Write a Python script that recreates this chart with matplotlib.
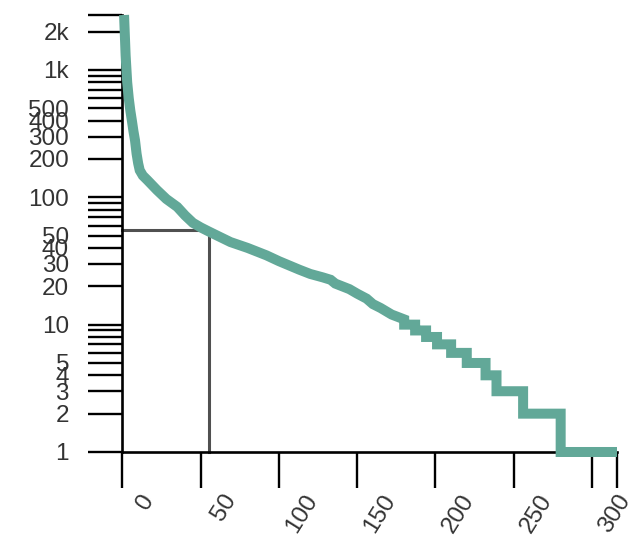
import numpy as np
import matplotlib
matplotlib.use("Agg")
import matplotlib.pyplot as plt
import matplotlib.transforms as mtransforms
from matplotlib.ticker import NullLocator

# ---- data (rank vs. count, log y) ----
head_rank = [1, 2, 3, 4, 5, 6, 7, 8, 9, 10, 11, 13, 16, 22, 28, 35, 40, 45, 50, 55,
             62, 69, 80, 92, 100, 113, 120, 128, 133, 136, 145, 150, 156, 160, 165,
             172, 180]
head_count = [2700, 1300, 800, 600, 480, 400, 330, 280, 220, 185, 163, 148, 136, 114,
              97, 84, 72, 63, 58, 54, 49, 44.5, 40, 35, 31.5, 27, 25, 23.5, 22.5, 21,
              19, 17.5, 16, 14.5, 13.5, 12, 11]
tail_level = [10, 9, 8, 7, 6, 5, 4, 3, 2, 1]
tail_start = [180, 187, 194, 201, 210, 220, 232, 239, 256, 280]
last_rank = 316

ref_rank = 55
ref_count = 55

y_ticks = [1, 2, 3, 4, 5, 6, 7, 8, 9,
           10, 20, 30, 40, 50, 60, 70, 80, 90,
           100, 200, 300, 400, 500, 600, 700, 800, 900,
           1000, 2000, 2700]
y_label_map = {1: "1", 2: "2", 3: "3", 4: "4", 5: "5", 10: "10", 20: "20", 30: "30",
               40: "40", 50: "50", 100: "100", 200: "200", 300: "300", 400: "400",
               500: "500", 1000: "1k", 2000: "2k"}
x_ticks = [0, 50, 100, 150, 200, 250, 300, 316]
x_labels = ["0", "50", "100", "150", "200", "250", "300", ""]

# ---- build the step series ----
xs = list(head_rank)
ys = list(head_count)
ends = tail_start[1:] + [last_rank]
for lvl, s, e in zip(tail_level, tail_start, ends):
    xs += [s, e]
    ys += [lvl, lvl]

plt.rcParams["font.family"] = ["Liberation Sans", "DejaVu Sans"]

fig = plt.figure(figsize=(6.37, 5.43), dpi=100)
ax = fig.add_axes([0.1923, 0.1676, 0.7763, 0.8048])
ax.set_yscale("log")
ax.set_xlim(0, last_rank)
ax.set_ylim(1, max(head_count))

for s in ["top", "right"]:
    ax.spines[s].set_visible(False)
for s in ["left", "bottom"]:
    ax.spines[s].set_linewidth(1.9)
    ax.spines[s].set_color("black")

# reference lines
ax.plot([0, ref_rank, ref_rank], [ref_count, ref_count, 1], color="#505050",
        lw=2.2, zorder=2, clip_on=False, solid_joinstyle="miter")

# main curve
ax.plot(xs, ys, color="#62a898", lw=7.2, zorder=3, clip_on=False,
        solid_joinstyle="miter", solid_capstyle="butt")

# y ticks
ax.set_yticks(y_ticks)
ax.set_yticklabels([y_label_map.get(v, "") for v in y_ticks])
ax.yaxis.set_minor_locator(NullLocator())
ax.tick_params(axis="y", length=24.5, width=1.7, pad=14, labelsize=17.5,
               labelcolor="#333333", color="black")

# x ticks
ax.set_xticks(x_ticks)
ax.set_xticklabels(x_labels)
ax.xaxis.set_minor_locator(NullLocator())
ax.tick_params(axis="x", length=26, width=1.7, pad=1.5, labelsize=17.5,
               labelcolor="#333333", color="black")
offset = mtransforms.ScaledTranslation(23 / 100, 0, fig.dpi_scale_trans)
for lbl in ax.get_xticklabels():
    lbl.set_rotation(58)
    lbl.set_ha("center")
    lbl.set_va("top")
    lbl.set_transform(lbl.get_transform() + offset)

fig.savefig("out.png", dpi=100, facecolor="white")
